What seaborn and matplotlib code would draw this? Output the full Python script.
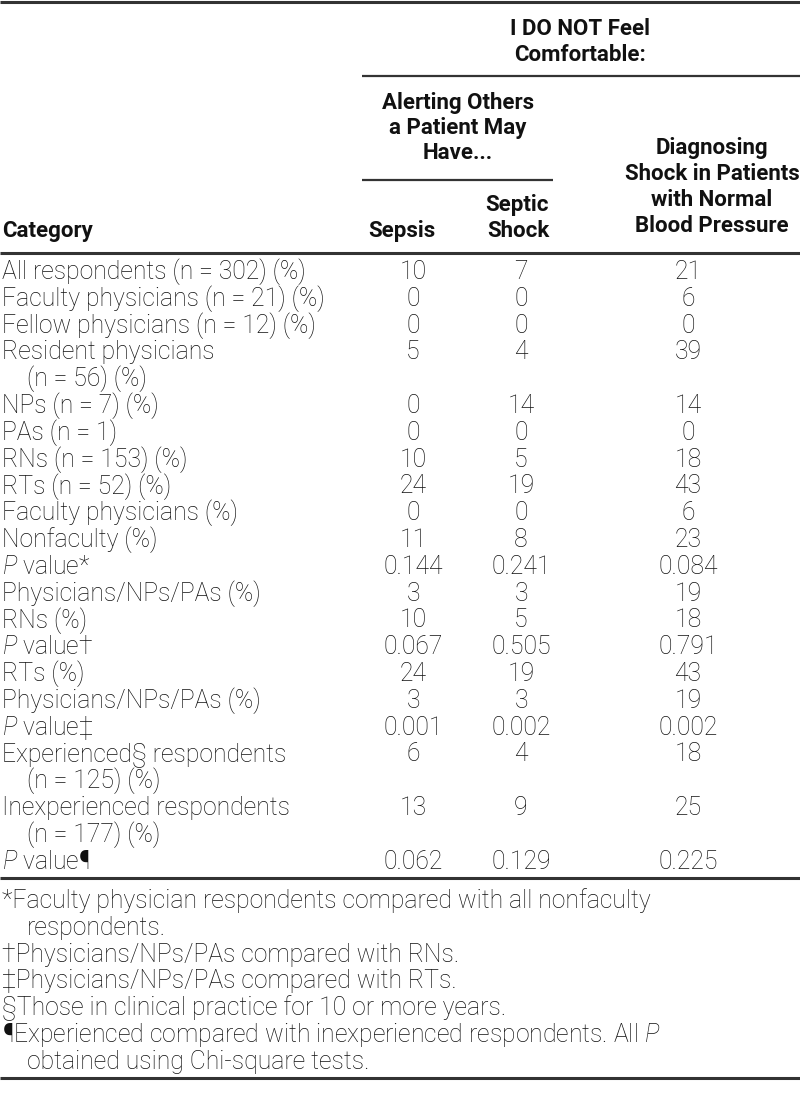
import matplotlib.pyplot as plt
import seaborn as sns

# table contents
categories = [
    "All respondents (n = 302) (%)",
    "Faculty physicians (n = 21) (%)",
    "Fellow physicians (n = 12) (%)",
    "Resident physicians\n(n = 56) (%)",
    "NPs (n = 7) (%)",
    "PAs (n = 1)",
    "RNs (n = 153) (%)",
    "RTs (n = 52) (%)",
    "Faculty physicians (%)",
    "Nonfaculty (%)",
    "$P$ value*",
    "Physicians/NPs/PAs (%)",
    "RNs (%)",
    "$P$ value†",
    "RTs (%)",
    "Physicians/NPs/PAs (%)",
    "$P$ value‡",
    "Experienced§ respondents\n(n = 125) (%)",
    "Inexperienced respondents\n(n = 177) (%)",
    "$P$ value¶",
]
sepsis = ["10", "0", "0", "5", "0", "0", "10", "24", "0", "11", "0.144",
          "3", "10", "0.067", "24", "3", "0.001", "6", "13", "0.062"]
septic_shock = ["7", "0", "0", "4", "14", "0", "5", "19", "0", "8", "0.241",
                "3", "5", "0.505", "19", "3", "0.002", "4", "9", "0.129"]
normal_bp = ["21", "6", "0", "39", "14", "0", "18", "43", "6", "23", "0.084",
             "19", "18", "0.791", "43", "19", "0.002", "18", "25", "0.225"]

footnotes = [
    "*Faculty physician respondents compared with all nonfaculty\nrespondents.",
    "†Physicians/NPs/PAs compared with RNs.",
    "‡Physicians/NPs/PAs compared with RTs.",
    "§Those in clinical practice for 10 or more years.",
    "¶Experienced compared with inexperienced respondents. All $P$\nobtained using Chi-square tests.",
]

sns.set_theme(style="white")
plt.rcParams["font.family"] = ["Roboto", "DejaVu Sans"]
plt.rcParams["mathtext.fontset"] = "custom"
plt.rcParams["mathtext.rm"] = "Roboto:light"
plt.rcParams["mathtext.it"] = "Roboto:italic:light"

fig = plt.figure(figsize=(8, 11.19), dpi=100)
ax = fig.add_axes([0, 0, 1, 1])
ax.set_xlim(0, 800)
ax.set_ylim(1119, 0)
ax.axis("off")

txt = "#111111"
fs = 17.8
step = 26.8
indent = 25
body = dict(fontsize=fs, color=txt, va="center", fontweight="light")

# rules
rule = "#333333"
ax.hlines([2, 253, 878, 1078], 0, 800, colors=rule, lw=2.2)
ax.hlines(76, 362, 800, colors=rule, lw=1.6)
ax.hlines(180, 362, 553, colors=rule, lw=1.6)

# header
hfs = 16
hd = dict(fontsize=hfs, fontweight="bold", color=txt, va="center", linespacing=1.2)
ax.text(580, 42, "I DO NOT Feel\nComfortable:", ha="center", **hd)
ax.text(458, 128, "Alerting Others\na Patient May\nHave...", ha="center", **hd)
ax.text(712, 187, "Diagnosing\nShock in Patients\nwith Normal\nBlood Pressure", ha="center",
        fontsize=hfs, fontweight="bold", color=txt, va="center", linespacing=1.22)
ax.text(549, 218, "Septic\nShock", ha="right", **hd)
ax.text(402, 231, "Sepsis", ha="center", **hd)
ax.text(2, 231, "Category", ha="left", **hd)

# body
y = 272
for cat, a, b, c in zip(categories, sepsis, septic_shock, normal_bp):
    lines = cat.split("\n")
    ax.text(2, y, lines[0], ha="left", **body)
    ax.text(413, y, a, ha="center", **body)
    ax.text(521, y, b, ha="center", **body)
    ax.text(688, y, c, ha="center", **body)
    for extra in lines[1:]:
        y += step
        ax.text(2 + indent, y, extra, ha="left", **body)
    y += step

# footnotes
y = 901
for note in footnotes:
    lines = note.split("\n")
    ax.text(2, y, lines[0], ha="left", **body)
    for extra in lines[1:]:
        y += step
        ax.text(2 + indent, y, extra, ha="left", **body)
    y += step

fig.savefig("out.png", dpi=100, facecolor="white")
